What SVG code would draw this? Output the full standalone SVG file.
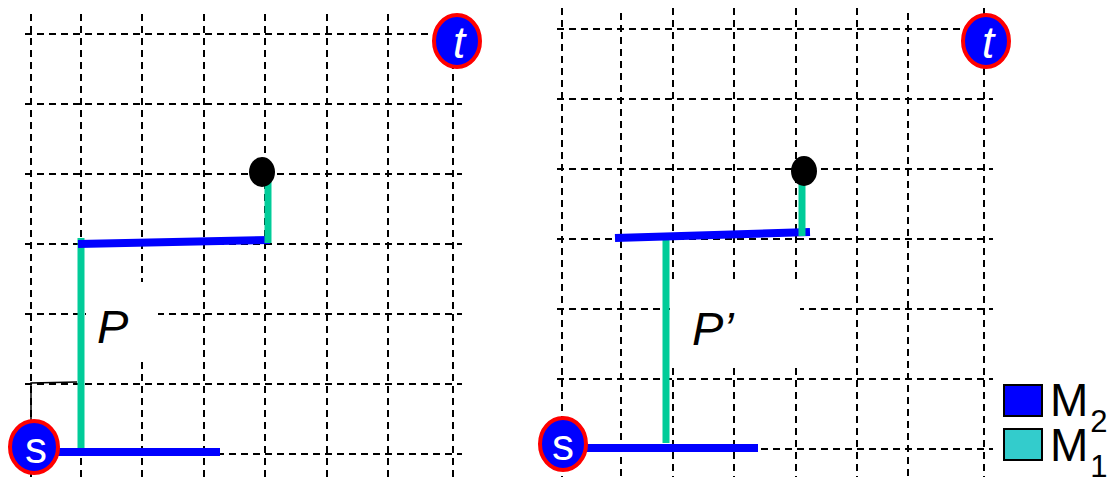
<svg xmlns="http://www.w3.org/2000/svg" width="1111" height="477" viewBox="0 0 1111 477">
<style>
.grid line{stroke:#000;stroke-width:2;stroke-dasharray:7 5;fill:none}
.m2{stroke:#0000FF;stroke-width:8;fill:none}
.m1{stroke:#00CC99;stroke-width:7;fill:none}
.term ellipse{fill:#0000FF;stroke:#FF0000;stroke-width:4}
.term text{font-family:"Liberation Sans",Arial,sans-serif;font-size:44px;fill:#fff;text-anchor:middle}
.lbl{font-family:"Liberation Sans",Arial,sans-serif;font-style:italic;font-size:47px;fill:#000}
.leg{font-family:"Liberation Sans",Arial,sans-serif;font-size:46px;fill:#000}
.sub{font-size:31px}
</style>
<rect width="1111" height="477" fill="#fff"/>
<g id="grid-left" class="grid">
<line x1="31" y1="14" x2="31" y2="477"/>
<line x1="81" y1="14" x2="81" y2="477"/>
<line x1="142" y1="14" x2="142" y2="477"/>
<line x1="204" y1="14" x2="204" y2="477"/>
<line x1="265" y1="14" x2="265" y2="477"/>
<line x1="327" y1="14" x2="327" y2="477"/>
<line x1="388" y1="14" x2="388" y2="477"/>
<line x1="453" y1="14" x2="453" y2="477"/>
<line x1="25" y1="34" x2="462" y2="34"/>
<line x1="25" y1="104" x2="462" y2="104"/>
<line x1="25" y1="174" x2="462" y2="174"/>
<line x1="25" y1="244" x2="462" y2="244"/>
<line x1="25" y1="314" x2="462" y2="314"/>
<line x1="25" y1="384" x2="462" y2="384"/>
<line x1="25" y1="454" x2="462" y2="454"/>
</g>
<g id="grid-right" class="grid">
<line x1="562" y1="8" x2="562" y2="477"/>
<line x1="621" y1="13" x2="621" y2="477"/>
<line x1="673" y1="8" x2="673" y2="477"/>
<line x1="734" y1="8" x2="734" y2="477"/>
<line x1="796" y1="8" x2="796" y2="477"/>
<line x1="857" y1="8" x2="857" y2="477"/>
<line x1="908" y1="13" x2="908" y2="477"/>
<line x1="984" y1="8" x2="984" y2="477"/>
<line x1="557" y1="29" x2="993" y2="29"/>
<line x1="557" y1="99" x2="993" y2="99"/>
<line x1="557" y1="169" x2="993" y2="169"/>
<line x1="557" y1="239" x2="993" y2="239"/>
<line x1="557" y1="309" x2="993" y2="309"/>
<line x1="557" y1="379" x2="993" y2="379"/>
<line x1="557" y1="449" x2="993" y2="449"/>
</g>
<rect x="86" y="282" width="72" height="80" fill="#fff"/>
<rect x="670" y="282" width="130" height="86" fill="#fff"/>
<g id="connectors">
<path d="M31 420 L31 383 L77 382" fill="none" stroke="#000" stroke-width="1.5"/>
<line class="m1" x1="81" y1="238" x2="81" y2="452"/>
<line class="m2" x1="55" y1="452" x2="220" y2="452"/>
<line class="m2" x1="78" y1="244" x2="270" y2="240"/>
<line class="m1" x1="268" y1="176" x2="268" y2="243"/>
<line class="m1" x1="666" y1="236" x2="666" y2="443"/>
<line class="m2" x1="583" y1="448" x2="758" y2="448"/>
<line class="m2" x1="615" y1="238" x2="810" y2="232"/>
<line class="m1" x1="802" y1="176" x2="802" y2="236"/>
</g>
<g id="via-left"><ellipse cx="262" cy="172" rx="13" ry="15" fill="#000"/></g>
<g id="via-right"><ellipse cx="804" cy="171" rx="13" ry="15" fill="#000"/></g>
<g id="t-left" class="term"><ellipse cx="457" cy="41" rx="23" ry="26"/><text x="459" y="58" font-style="italic">t</text></g>
<g id="t-right" class="term"><ellipse cx="986" cy="41" rx="23" ry="26"/><text x="988" y="58" font-style="italic">t</text></g>
<g id="s-left" class="term"><ellipse cx="34" cy="447" rx="24" ry="26"/><text x="36" y="463">s</text></g>
<g id="s-right" class="term"><ellipse cx="563" cy="444" rx="23" ry="26"/><text x="563" y="460">s</text></g>
<text id="label-P" class="lbl" x="97" y="343">P</text>
<text id="label-P2" class="lbl" x="692" y="345">P’</text>
<g id="legend">
<rect x="1004" y="385" width="38" height="31" fill="#0000FF" stroke="#000" stroke-width="2"/>
<rect x="1004" y="429" width="38" height="31" fill="#33CCCC" stroke="#000" stroke-width="2"/>
<text class="leg" x="1050" y="416">M<tspan class="sub" dx="2" y="432">2</tspan></text>
<text class="leg" x="1050" y="461">M<tspan class="sub" dx="2" y="477">1</tspan></text>
</g>
</svg>
